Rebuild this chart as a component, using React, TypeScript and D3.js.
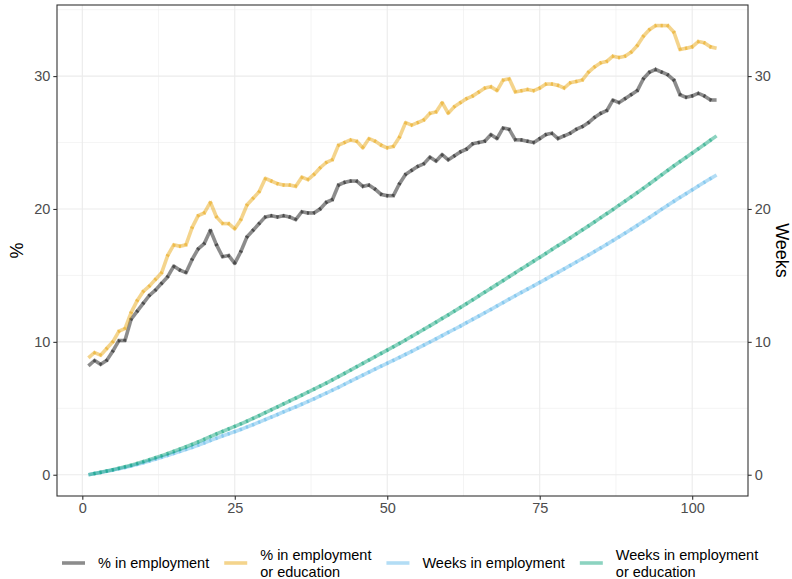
import React, { useRef, useEffect } from 'react';
import * as d3 from 'd3';

// weekly values, weeks 1..104
const weeks = d3.range(1, 105);

const pctEmployment = [
  8.2, 8.6, 8.3, 8.6, 9.3, 10.1, 10.1, 11.7, 12.3, 12.9, 13.5, 13.9, 14.4, 14.9, 15.7, 15.4,
  15.2, 16.2, 17.0, 17.4, 18.4, 17.3, 16.4, 16.5, 15.9, 16.8, 17.9, 18.4, 18.9, 19.4, 19.5, 19.4,
  19.5, 19.4, 19.2, 19.8, 19.7, 19.7, 20.0, 20.5, 20.7, 21.8, 22.0, 22.1, 22.1, 21.7, 21.8, 21.5,
  21.1, 21.0, 21.0, 21.9, 22.6, 22.9, 23.2, 23.4, 23.9, 23.6, 24.1, 23.7, 24.0, 24.3, 24.5, 24.9,
  25.0, 25.1, 25.6, 25.3, 26.1, 26.0, 25.2, 25.2, 25.1, 25.0, 25.3, 25.6, 25.7, 25.3, 25.5, 25.7,
  26.0, 26.2, 26.5, 26.9, 27.2, 27.4, 28.2, 28.0, 28.3, 28.6, 28.9, 29.8, 30.3, 30.5, 30.3, 30.1,
  29.7, 28.6, 28.4, 28.5, 28.7, 28.5, 28.2, 28.2,
];

const pctEmpEdu = [
  8.8, 9.2, 9.0, 9.5, 10.0, 10.8, 11.0, 12.2, 13.1, 13.8, 14.2, 14.7, 15.2, 16.5, 17.3, 17.2,
  17.3, 18.6, 19.5, 19.7, 20.5, 19.4, 18.9, 18.9, 18.5, 19.2, 20.3, 20.8, 21.3, 22.3, 22.1, 21.9,
  21.8, 21.8, 21.7, 22.4, 22.2, 22.6, 23.1, 23.5, 23.7, 24.8, 25.0, 25.2, 25.1, 24.6, 25.3, 25.1,
  24.8, 24.6, 24.7, 25.4, 26.5, 26.3, 26.5, 26.7, 27.2, 27.3, 28.0, 27.2, 27.7, 28.0, 28.3, 28.5,
  28.8, 29.1, 29.2, 28.9, 29.7, 29.8, 28.8, 28.9, 29.0, 28.9, 29.1, 29.4, 29.4, 29.3, 29.1, 29.5,
  29.6, 29.7, 30.3, 30.7, 31.0, 31.1, 31.5, 31.4, 31.5, 31.8, 32.3, 33.0, 33.5, 33.8, 33.8, 33.8,
  33.3, 32.0, 32.1, 32.2, 32.6, 32.5, 32.2, 32.1,
];

const weeksEmployment = [
  0.00, 0.09, 0.17, 0.26, 0.35, 0.45, 0.55, 0.66, 0.78, 0.90, 1.03, 1.17, 1.31, 1.45, 1.60, 1.75,
  1.90, 2.06, 2.23, 2.40, 2.58, 2.75, 2.92, 3.08, 3.24, 3.41, 3.59, 3.77, 3.96, 4.15, 4.34, 4.53,
  4.73, 4.92, 5.11, 5.31, 5.51, 5.71, 5.93, 6.14, 6.36, 6.58, 6.81, 7.04, 7.27, 7.50, 7.72, 7.95,
  8.17, 8.39, 8.61, 8.83, 9.06, 9.29, 9.52, 9.75, 9.99, 10.23, 10.47, 10.71, 10.95, 11.19, 11.44, 11.69,
  11.94, 12.19, 12.44, 12.70, 12.96, 13.22, 13.47, 13.72, 13.97, 14.22, 14.47, 14.72, 14.98, 15.23, 15.49, 15.75,
  16.01, 16.27, 16.53, 16.80, 17.07, 17.34, 17.62, 17.90, 18.18, 18.47, 18.76, 19.06, 19.36, 19.67, 19.98, 20.28,
  20.58, 20.87, 21.15, 21.44, 21.73, 22.01, 22.29, 22.56,
];

const weeksEmpEdu = [
  0.00, 0.09, 0.18, 0.28, 0.38, 0.49, 0.60, 0.72, 0.85, 0.99, 1.13, 1.28, 1.43, 1.59, 1.76, 1.93,
  2.10, 2.28, 2.47, 2.67, 2.87, 3.07, 3.26, 3.45, 3.64, 3.83, 4.03, 4.24, 4.45, 4.67, 4.89, 5.11,
  5.33, 5.55, 5.77, 5.99, 6.21, 6.44, 6.67, 6.90, 7.14, 7.38, 7.63, 7.88, 8.13, 8.38, 8.63, 8.88,
  9.13, 9.38, 9.63, 9.88, 10.14, 10.41, 10.67, 10.94, 11.21, 11.48, 11.76, 12.03, 12.31, 12.59, 12.87, 13.16,
  13.45, 13.74, 14.03, 14.32, 14.61, 14.91, 15.20, 15.49, 15.78, 16.07, 16.36, 16.65, 16.95, 17.24, 17.53, 17.82,
  18.12, 18.42, 18.72, 19.03, 19.34, 19.65, 19.96, 20.28, 20.59, 20.91, 21.23, 21.56, 21.89, 22.23, 22.57, 22.91,
  23.24, 23.56, 23.88, 24.20, 24.53, 24.85, 25.18, 25.50,
];

const seriesLabels = [
  ['% in employment'],
  ['% in employment', 'or education'],
  ['Weeks in employment'],
  ['Weeks in employment', 'or education'],
];
const seriesColors = ['#000000', '#E69F00', '#56B4E9', '#009E73'];

const xTicks = [0, 25, 50, 75, 100];
const xMinor = [12.5, 37.5, 62.5, 87.5];
const yTicks = [0, 10, 20, 30];
const yMinor = [5, 15, 25, 35];

const W = 792;
const H = 579;
const FONT = '"Liberation Sans", Arial, sans-serif';

const App: React.FC = () => {
  const svgRef = useRef<SVGSVGElement | null>(null);

  useEffect(() => {
    const svg = d3.select(svgRef.current);
    svg.selectAll('*').remove();

    const panel = { left: 57, right: 748, top: 5, bottom: 496 };

    const x = d3.scaleLinear().domain([-4.15, 109.15]).range([panel.left, panel.right]);
    const y = d3.scaleLinear().domain([-1.6, 35.35]).range([panel.bottom, panel.top]);

    svg.append('rect').attr('width', W).attr('height', H).attr('fill', '#ffffff');

    // grid
    const grid = svg.append('g');
    grid.selectAll('line.xmin').data(xMinor).join('line')
      .attr('x1', d => x(d)).attr('x2', d => x(d))
      .attr('y1', panel.top).attr('y2', panel.bottom)
      .attr('stroke', '#EBEBEB').attr('stroke-width', 0.55);
    grid.selectAll('line.ymin').data(yMinor).join('line')
      .attr('y1', d => y(d)).attr('y2', d => y(d))
      .attr('x1', panel.left).attr('x2', panel.right)
      .attr('stroke', '#EBEBEB').attr('stroke-width', 0.55);
    grid.selectAll('line.xmaj').data(xTicks).join('line')
      .attr('x1', d => x(d)).attr('x2', d => x(d))
      .attr('y1', panel.top).attr('y2', panel.bottom)
      .attr('stroke', '#EBEBEB').attr('stroke-width', 1.1);
    grid.selectAll('line.ymaj').data(yTicks).join('line')
      .attr('y1', d => y(d)).attr('y2', d => y(d))
      .attr('x1', panel.left).attr('x2', panel.right)
      .attr('stroke', '#EBEBEB').attr('stroke-width', 1.1);

    // lines: one segment per week, each pushed out a little at both ends
    // so neighbouring segments overlap and leave a darker mark at each week
    const overlap = 1.1;
    const allSeries = [pctEmployment, pctEmpEdu, weeksEmployment, weeksEmpEdu];
    allSeries.forEach((vals, i) => {
      const pts = weeks.map((w, j) => [x(w), y(vals[j])] as [number, number]);
      const segs = d3.pairs(pts).map(([a, b], k, arr) => {
        const dx = b[0] - a[0];
        const dy = b[1] - a[1];
        const len = Math.hypot(dx, dy) || 1;
        const ux = dx / len;
        const uy = dy / len;
        const e0 = k === 0 ? 0 : overlap;
        const e1 = k === arr.length - 1 ? 0 : overlap;
        return [a[0] - ux * e0, a[1] - uy * e0, b[0] + ux * e1, b[1] + uy * e1];
      });
      svg.append('g')
        .selectAll('line')
        .data(segs)
        .join('line')
        .attr('x1', d => d[0]).attr('y1', d => d[1])
        .attr('x2', d => d[2]).attr('y2', d => d[3])
        .attr('stroke', seriesColors[i])
        .attr('stroke-opacity', 0.45)
        .attr('stroke-width', 3.6)
        .attr('stroke-linecap', 'butt');
    });

    // panel border
    svg.append('rect')
      .attr('x', panel.left).attr('y', panel.top)
      .attr('width', panel.right - panel.left).attr('height', panel.bottom - panel.top)
      .attr('fill', 'none').attr('stroke', '#333333').attr('stroke-width', 1.1);

    // axes
    const axisStyle = (g: d3.Selection<SVGGElement, unknown, null, undefined>) => {
      g.select('.domain').remove();
      g.selectAll('.tick line').attr('stroke', '#333333').attr('stroke-width', 1.1);
      g.selectAll('.tick text')
        .attr('fill', '#4D4D4D')
        .style('font-family', FONT)
        .style('font-size', '14.5px');
    };

    svg.append('g')
      .attr('transform', `translate(0,${panel.bottom})`)
      .call(d3.axisBottom(x).tickValues(xTicks).tickSize(3.7).tickPadding(3))
      .call(axisStyle);

    svg.append('g')
      .attr('transform', `translate(${panel.left},0)`)
      .call(d3.axisLeft(y).tickValues(yTicks).tickSize(3.7).tickPadding(3))
      .call(axisStyle);

    svg.append('g')
      .attr('transform', `translate(${panel.right},0)`)
      .call(d3.axisRight(y).tickValues(yTicks).tickSize(3.7).tickPadding(3))
      .call(axisStyle);

    // axis titles
    const midY = (panel.top + panel.bottom) / 2;
    svg.append('text')
      .attr('transform', `translate(23,${midY}) rotate(-90)`)
      .attr('text-anchor', 'middle')
      .style('font-family', FONT).style('font-size', '18px')
      .text('%');
    svg.append('text')
      .attr('transform', `translate(776,${midY}) rotate(90)`)
      .attr('text-anchor', 'middle')
      .style('font-family', FONT).style('font-size', '18px')
      .text('Weeks');

    // legend
    const legend = svg.append('g');
    const legendY = 563;
    const keyW = 23;
    const gapKeyText = 13;
    const gapItems = 15;
    const items = seriesLabels.map((lines, i) => {
      const g = legend.append('g');
      g.append('line')
        .attr('x1', 0).attr('x2', keyW)
        .attr('y1', legendY).attr('y2', legendY)
        .attr('stroke', seriesColors[i])
        .attr('stroke-opacity', 0.45)
        .attr('stroke-width', 3.6);
      const txt = g.append('text')
        .attr('x', keyW + gapKeyText)
        .style('font-family', FONT).style('font-size', '14.5px')
        .attr('fill', '#000000');
      const lh = 17;
      const firstBaseline = legendY + 5 - ((lines.length - 1) * lh) / 2;
      lines.forEach((l, k) => {
        txt.append('tspan')
          .attr('x', keyW + gapKeyText)
          .attr('y', firstBaseline + k * lh)
          .text(l);
      });
      const tw = (txt.node() as SVGTextElement).getBBox().width;
      return { g, width: keyW + gapKeyText + tw };
    });
    let cursor = 62;
    items.forEach(it => {
      it.g.attr('transform', `translate(${cursor},0)`);
      cursor += it.width + gapItems;
    });
  }, []);

  return (
    <svg
      ref={svgRef}
      width={W}
      height={H}
      style={{ position: 'absolute', left: 0, top: 0, display: 'block' }}
    />
  );
};

export default App;
